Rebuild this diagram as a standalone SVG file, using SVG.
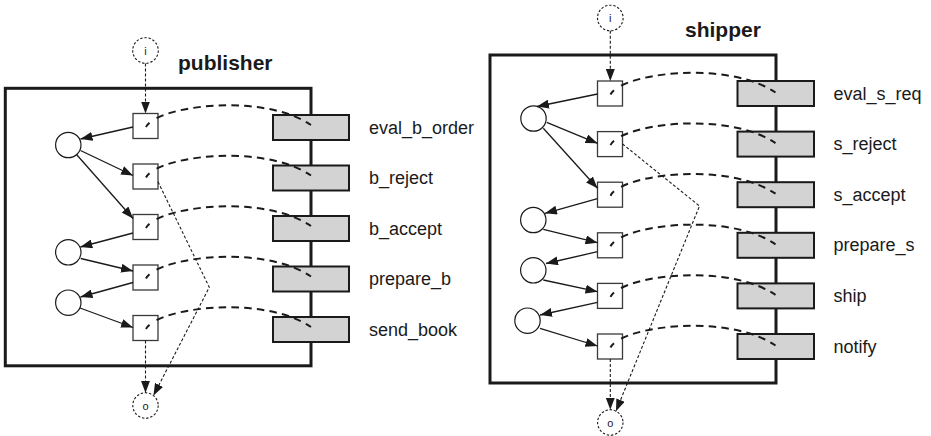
<svg xmlns="http://www.w3.org/2000/svg" width="931" height="436" viewBox="0 0 931 436">
  <defs>
    <style>
      .frame { fill: none; stroke: #1a1a1a; stroke-width: 3; }
      .sq { fill: #fff; stroke: #3a3a3a; stroke-width: 1.3; }
      .pl { fill: #fff; stroke: #1a1a1a; stroke-width: 1.2; }
      .io { fill: #fff; stroke: #1a1a1a; stroke-width: 1.1; stroke-dasharray: 2.4 1.8; }
      .iotxt { font-family: "Liberation Sans", Arial, sans-serif; font-size: 11px; fill: #1a1a1a; text-anchor: middle; }
      .box { fill: #d3d3d3; stroke: #1a1a1a; stroke-width: 2; }
      .lbl { font-family: "Liberation Sans", Arial, sans-serif; font-size: 18px; fill: #1a1a1a; }
      .title { font-family: "Liberation Sans", Arial, sans-serif; font-size: 21px; font-weight: bold; fill: #1a1a1a; }
      .flow { fill: none; stroke: #1a1a1a; stroke-width: 1.3; marker-end: url(#ah); }
      .dot { fill: none; stroke: #1a1a1a; stroke-width: 1.1; stroke-dasharray: 3 2; marker-end: url(#ah); }
      .arc { fill: none; stroke: #1a1a1a; stroke-width: 2;
             stroke-dasharray: 6 9 8 5.5 8 5.5 8 5.5 8 5.5 8 5.5 8 5.5 8 5.5 8 5.5 8 5.5 8 5.5 8 5.5 8 6 6.5 30; }
    </style>
    <marker id="ah" markerWidth="12" markerHeight="9" refX="12" refY="4.5" orient="auto" markerUnits="userSpaceOnUse">
      <path d="M0,0 L12,4.5 L0,9 z" fill="#1a1a1a"/>
    </marker>
  </defs>

  <!-- publisher -->
  <g id="publisher">
    <rect class="frame" x="5.3" y="88.3" width="305.7" height="277.5"/>
    <text class="title" x="178" y="70">publisher</text>
  </g>
  <g id="p_in"><circle class="io" cx="145.5" cy="50.5" r="12.8"/><text class="iotxt" x="145.5" y="54.5">i</text></g>
  <g id="p_out"><circle class="io" cx="145.5" cy="405.5" r="12.7"/><text class="iotxt" x="145.5" y="409.5">o</text></g>

  <g id="p_c1"><circle class="pl" cx="68.3" cy="145" r="12.7"/></g>
  <g id="p_c2"><circle class="pl" cx="68.3" cy="252.3" r="12.7"/></g>
  <g id="p_c3"><circle class="pl" cx="68.3" cy="302.7" r="12.7"/></g>

  <g id="p_t1"><rect class="sq" x="133" y="113.5" width="25" height="25"/></g>
  <g id="p_t2"><rect class="sq" x="133" y="164" width="25" height="25"/></g>
  <g id="p_t3"><rect class="sq" x="133" y="214.5" width="25" height="25"/></g>
  <g id="p_t4"><rect class="sq" x="133" y="265" width="25" height="25"/></g>
  <g id="p_t5"><rect class="sq" x="133" y="315.5" width="25" height="25"/></g>

  <g id="eval_b_order"><rect class="box" x="273" y="115" width="76" height="25"/><text class="lbl" x="369" y="133.5">eval_b_order</text></g>
  <g id="b_reject"><rect class="box" x="273" y="165.5" width="76" height="25"/><text class="lbl" x="369" y="184">b_reject</text></g>
  <g id="b_accept"><rect class="box" x="273" y="216" width="76" height="25"/><text class="lbl" x="369" y="234.5">b_accept</text></g>
  <g id="prepare_b"><rect class="box" x="273" y="266.5" width="76" height="25"/><text class="lbl" x="369" y="285">prepare_b</text></g>
  <g id="send_book"><rect class="box" x="273" y="317" width="76" height="25"/><text class="lbl" x="369" y="335.5">send_book</text></g>

  <!-- shipper -->
  <g id="shipper">
    <rect class="frame" x="490" y="55" width="286" height="328"/>
    <text class="title" x="685" y="37">shipper</text>
  </g>
  <g id="s_in"><circle class="io" cx="610.3" cy="18" r="12.8"/><text class="iotxt" x="610.3" y="22">i</text></g>
  <g id="s_out"><circle class="io" cx="610.3" cy="422.5" r="12.7"/><text class="iotxt" x="610.3" y="426.5">o</text></g>

  <g id="s_c1"><circle class="pl" cx="533.5" cy="118.5" r="12.7"/></g>
  <g id="s_c2"><circle class="pl" cx="533.3" cy="220" r="12.7"/></g>
  <g id="s_c3"><circle class="pl" cx="533.3" cy="270.3" r="12.7"/></g>
  <g id="s_c4"><circle class="pl" cx="527.5" cy="320.7" r="12.7"/></g>

  <g id="s_t1"><rect class="sq" x="597.5" y="81" width="25" height="25"/></g>
  <g id="s_t2"><rect class="sq" x="597.5" y="131.6" width="25" height="25"/></g>
  <g id="s_t3"><rect class="sq" x="597.5" y="182.2" width="25" height="25"/></g>
  <g id="s_t4"><rect class="sq" x="597.5" y="232.8" width="25" height="25"/></g>
  <g id="s_t5"><rect class="sq" x="597.5" y="283.4" width="25" height="25"/></g>
  <g id="s_t6"><rect class="sq" x="597.5" y="334" width="25" height="25"/></g>

  <g id="eval_s_req"><rect class="box" x="737.5" y="81" width="76.5" height="25"/><text class="lbl" x="833.5" y="99.5">eval_s_req</text></g>
  <g id="s_reject"><rect class="box" x="737.5" y="131.6" width="76.5" height="25"/><text class="lbl" x="833.5" y="150.1">s_reject</text></g>
  <g id="s_accept"><rect class="box" x="737.5" y="182.2" width="76.5" height="25"/><text class="lbl" x="833.5" y="200.7">s_accept</text></g>
  <g id="prepare_s"><rect class="box" x="737.5" y="232.8" width="76.5" height="25"/><text class="lbl" x="833.5" y="251.3">prepare_s</text></g>
  <g id="ship"><rect class="box" x="737.5" y="283.4" width="76.5" height="25"/><text class="lbl" x="833.5" y="301.9">ship</text></g>
  <g id="notify"><rect class="box" x="737.5" y="334" width="76.5" height="25"/><text class="lbl" x="833.5" y="352.5">notify</text></g>

  <g id="connectors">
    <!-- publisher control flow -->
    <path class="flow" d="M133,127 L80.5,139"/>
    <path class="flow" d="M80.5,150.5 L133,175.5"/>
    <path class="flow" d="M76.5,154.5 L133,218.5"/>
    <path class="flow" d="M133,233 L80.3,247"/>
    <path class="flow" d="M80.8,258.5 L133,271"/>
    <path class="flow" d="M133,282.5 L80.5,297"/>
    <path class="flow" d="M80,308 L133,327.5"/>
    <!-- publisher entry / exit -->
    <path class="dot" d="M145.5,63.5 L145.5,113.5"/>
    <path class="dot" d="M145.5,340.5 L145.5,392.8"/>
    <path class="dot" d="M158,181.7 L209.3,287.3 L153.5,395.5"/>
    <!-- publisher task-to-operation links -->
    <path class="arc" pathLength="184" d="M146,127 c10,-21 116,-35 165,-2"/>
    <path class="arc" pathLength="184" d="M146,177.5 c10,-21 116,-35 165,-2"/>
    <path class="arc" pathLength="184" d="M146,228 c10,-21 116,-35 165,-2"/>
    <path class="arc" pathLength="184" d="M146,278.5 c10,-21 116,-35 165,-2"/>
    <path class="arc" pathLength="184" d="M146,329 c10,-21 116,-35 165,-2"/>

    <!-- shipper control flow -->
    <path class="flow" d="M597.5,94 L537,106.5"/>
    <path class="flow" d="M546.7,122.3 L597.5,143.3"/>
    <path class="flow" d="M543.3,128.3 L597.5,188.3"/>
    <path class="flow" d="M597.5,198.7 L545,213.3"/>
    <path class="flow" d="M543.3,229.3 L597.5,242.7"/>
    <path class="flow" d="M597.5,251.7 L546,263.5"/>
    <path class="flow" d="M543.3,280 L597.5,291.7"/>
    <path class="flow" d="M597.5,302.3 L540,315"/>
    <path class="flow" d="M540,328.3 L597.5,346"/>
    <!-- shipper entry / exit -->
    <path class="dot" d="M610.3,30.8 L610.3,81"/>
    <path class="dot" d="M610.3,359 L610.3,409.8"/>
    <path class="dot" d="M622.5,144 L699.5,206 L616,411.2"/>
    <!-- shipper task-to-operation links -->
    <path class="arc" pathLength="184" d="M610.5,94.5 c10,-21 116,-35 165,-2"/>
    <path class="arc" pathLength="184" d="M610.5,145.1 c10,-21 116,-35 165,-2"/>
    <path class="arc" pathLength="184" d="M610.5,195.7 c10,-21 116,-35 165,-2"/>
    <path class="arc" pathLength="184" d="M610.5,246.3 c10,-21 116,-35 165,-2"/>
    <path class="arc" pathLength="184" d="M610.5,296.9 c10,-21 116,-35 165,-2"/>
    <path class="arc" pathLength="184" d="M610.5,347.5 c10,-21 116,-35 165,-2"/>
  </g>
</svg>
